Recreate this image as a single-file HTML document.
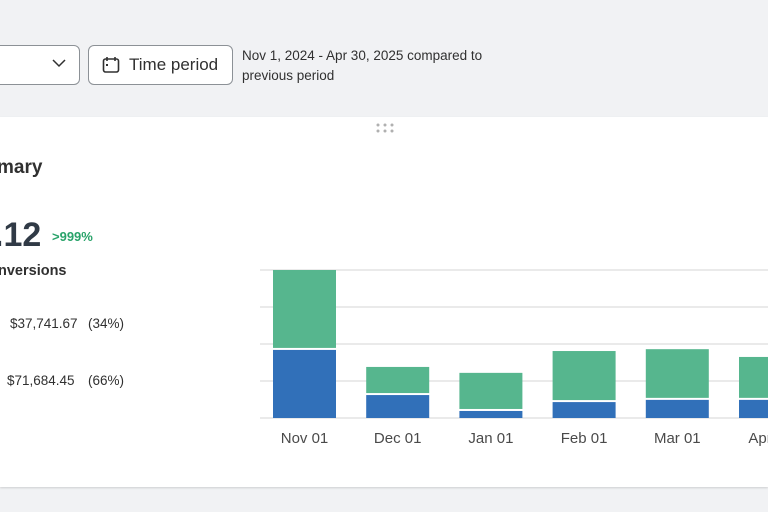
<!DOCTYPE html>
<html><head><meta charset="utf-8"><style>
body{margin:0;width:768px;height:512px;overflow:hidden;background:#f1f2f4;font-family:"Liberation Sans",sans-serif;position:relative}
.a{position:absolute}
</style></head><body>
<div class="a" style="left:-10px;top:45px;width:88px;height:38px;border:1px solid #8c9196;border-radius:6px;background:#fff"></div>
<svg class="a" style="left:52px;top:58px" width="14" height="10"><path d="M1 2 L7 8 L13 2" fill="none" stroke="#303030" stroke-width="1.5"/></svg>
<div class="a" style="left:88px;top:45px;width:143px;height:38px;border:1px solid #8c9196;border-radius:6px;background:#fff;box-sizing:content-box">
<svg class="a" style="left:13px;top:10px" width="18" height="18"><rect x="1.5" y="3" width="15" height="13" rx="2" fill="none" stroke="#303030" stroke-width="1.6"/><line x1="5" y1="1" x2="5" y2="5" stroke="#303030" stroke-width="1.6"/><line x1="13" y1="1" x2="13" y2="5" stroke="#303030" stroke-width="1.6"/><rect x="4" y="8" width="2" height="2" fill="#303030"/></svg>
<span class="a" style="left:40px;top:9px;font-size:17px;color:#303030">Time period</span></div>
<div class="a" style="left:242px;top:46px;font-size:13.5px;line-height:20px;color:#303030">Nov 1, 2024 - Apr 30, 2025 compared to<br>previous period</div>
<div class="a" style="left:0;top:117px;width:768px;height:370px;background:#fff;box-shadow:0 1px 2px rgba(0,0,0,.15)"></div>
<svg class="a" style="left:376px;top:123px" width="20" height="10"><g fill="#b0b0b0"><circle cx="2" cy="2" r="1.5"/><circle cx="9" cy="2" r="1.5"/><circle cx="16" cy="2" r="1.5"/><circle cx="2" cy="8" r="1.5"/><circle cx="9" cy="8" r="1.5"/><circle cx="16" cy="8" r="1.5"/></g></svg>
<div class="a" style="left:-3px;top:157px;font-size:19px;font-weight:bold;color:#303030">mary</div>
<div class="a" style="left:-6px;top:216px;font-size:34px;font-weight:bold;color:#303a46">.12</div>
<div class="a" style="left:52px;top:229px;font-size:13px;font-weight:bold;color:#29a36a">&gt;999%</div>
<div class="a" style="left:-2px;top:263px;font-size:14.5px;font-weight:bold;color:#303030">nversions</div>
<div class="a" style="left:10px;top:316px;font-size:13.5px;color:#303030">$37,741.67</div>
<div class="a" style="left:88px;top:316px;font-size:13.5px;color:#303030">(34%)</div>
<div class="a" style="left:7px;top:373px;font-size:13.5px;color:#303030">$71,684.45</div>
<div class="a" style="left:88px;top:373px;font-size:13.5px;color:#303030">(66%)</div>
<svg class="a" id="chart" style="left:0;top:0" width="768" height="512"></svg>
<script>
const categories=["Nov 01","Dec 01","Jan 01","Feb 01","Mar 01","Apr 01"];
const blueVals=[1.84,0.62,0.19,0.43,0.49,0.49];
const greenVals=[2.16,0.76,1.03,1.38,1.37,1.16];
const yTicks=[0,1,2,3,4];
const svg=document.getElementById('chart');
const NS='http://www.w3.org/2000/svg';
const y=v=>418-v*37, x=i=>273+i*93.2, bw=63;
function mk(t,a){const e=document.createElementNS(NS,t);for(const k in a)e.setAttribute(k,a[k]);svg.appendChild(e);return e;}
yTicks.forEach(t=>{const l=mk('line',{x1:260,x2:768,y1:y(t),y2:y(t),stroke:'#d4d4d4','stroke-width':1});

});
categories.forEach((c,i)=>{
const b=mk('rect',{x:x(i),y:y(blueVals[i]),width:bw,height:y(0)-y(blueVals[i]),fill:'#3170b9'});


const tot=blueVals[i]+greenVals[i];
const g=mk('rect',{x:x(i),y:y(tot),width:bw,height:y(blueVals[i])-y(tot)-2,fill:'#56b68e'});


const t=mk('text',{x:x(i)+bw/2,y:443,'text-anchor':'middle','font-size':15,fill:'#4a4a4a','font-family':'Liberation Sans, sans-serif'});
t.textContent=c;


});
</script>
</body></html>
